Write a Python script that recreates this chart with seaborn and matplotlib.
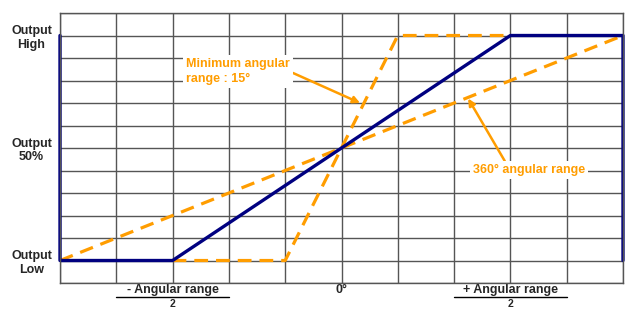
import matplotlib
matplotlib.use("Agg")
import matplotlib.pyplot as plt
import matplotlib.transforms as mtransforms
import seaborn as sns
import numpy as np

# proportional output (blue), 15 deg minimum range and 360 deg range (orange)
prop_angle = [-5, -5, -3, 3, 5, 5]
prop_output = [11, 1, 1, 11, 11, 1]
min_angle = [-3, -1, 1, 3]
min_output = [1, 1, 11, 11]
full_angle = [-5, 5]
full_output = [1, 11]

ytick_pos = [1, 6, 11]
ytick_labels = ["Output\nLow", "Output\n50%", "Output\nHigh"]
xtick_pos = [-3, 0, 3]
xtick_labels = ["- Angular range", "0°", "+ Angular range"]

sns.set_style("white")
plt.rcParams["font.family"] = ["Liberation Sans", "DejaVu Sans"]

BLUE = "#000080"
ORANGE = "#FF9D00"

fig = plt.figure(figsize=(6.25, 3.09), dpi=100)
ax = fig.add_axes([0.096, 0.0841, 0.9008, 0.8738])

sns.lineplot(x=full_angle, y=full_output, sort=False, estimator=None,
             color=ORANGE, lw=2.3, ax=ax)
ax.lines[-1].set_dashes((4.3, 2.5))
sns.lineplot(x=min_angle, y=min_output, sort=False, estimator=None,
             color=ORANGE, lw=2.3, ax=ax)
ax.lines[-1].set_dashes((4.3, 2.5))
sns.lineplot(x=prop_angle, y=prop_output, sort=False, estimator=None,
             color=BLUE, lw=2.4, ax=ax)
for ln in ax.lines:
    ln.set_clip_on(False)

ax.set_xlim(-5, 5)
ax.set_ylim(0, 12)
ax.set_xticks(np.arange(-5, 6), minor=True)
ax.set_yticks(np.arange(0, 13), minor=True)
ax.set_xticks(xtick_pos, xtick_labels)
ax.set_yticks(ytick_pos, ytick_labels)
ax.grid(which="both", color="#555555", lw=1.0)
ax.set_axisbelow(True)
ax.tick_params(which="both", length=0)
ax.tick_params(axis="x", pad=0.5)
ax.tick_params(axis="y", pad=5.8)
for lab in ax.get_xticklabels() + ax.get_yticklabels():
    lab.set_fontweight("bold")
    lab.set_fontsize(9)
for lab in ax.get_yticklabels():
    lab.set_multialignment("center")
for sp in ax.spines.values():
    sp.set_color("#555555")
    sp.set_linewidth(1.0)

# fraction bars under the +/- labels
trans = mtransforms.blended_transform_factory(ax.transData, ax.transAxes)
for x in [-3, 3]:
    ax.plot([x - 1, x + 1], [-0.05, -0.05], color="black", lw=1.0,
            transform=trans, clip_on=False)
    ax.text(x, -0.0945, "2", transform=trans, ha="center", va="bottom",
            fontsize=7.5, fontweight="bold")

box = dict(boxstyle="square,pad=0.25", fc="white", ec="none")
arrow = dict(arrowstyle="-|>", color=ORANGE, lw=1.8, mutation_scale=10,
             shrinkA=0, shrinkB=0)
ax.annotate("Minimum angular\nrange : 15°", xy=(0.33, 8.0), xytext=(-2.76, 9.4),
            ha="left", va="center", color=ORANGE, fontsize=9, fontweight="bold",
            linespacing=1.35, bbox=box,
            arrowprops=dict(arrow, relpos=(0.94, 0.6)))
ax.annotate("360° angular range", xy=(2.25, 8.2), xytext=(3.33, 5.02),
            ha="center", va="center", color=ORANGE, fontsize=9, fontweight="bold",
            bbox=box, arrowprops=dict(arrow, relpos=(0.3, 1.0)))

fig.savefig("out.png", dpi=100)
